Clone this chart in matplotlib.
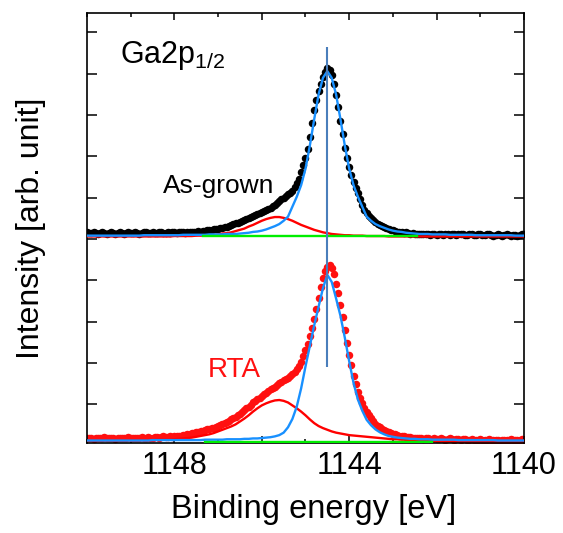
import numpy as np
import matplotlib
matplotlib.use('Agg')
import matplotlib.pyplot as plt
from matplotlib.ticker import MultipleLocator

plt.rcParams['font.family'] = ['Liberation Sans', 'DejaVu Sans']
plt.rcParams['mathtext.default'] = 'regular'

# energy grids (eV), from 1150 down to 1140
data_e = np.linspace(1150, 1140, 201)
fit_e = np.linspace(1150, 1140, 101)

# As-grown spectrum (offset by +5)
asgrown = [
    5.10, 5.08, 5.09, 5.11, 5.08, 5.07, 5.09, 5.10, 5.08, 5.06, 5.08, 5.10, 5.09, 5.07, 5.08, 5.10, 5.09, 5.07, 5.08, 5.10,
    5.09, 5.08, 5.10, 5.09, 5.07, 5.08, 5.10, 5.11, 5.09, 5.08, 5.10, 5.09, 5.08, 5.10, 5.11, 5.09, 5.08, 5.10, 5.09, 5.10,
    5.11, 5.09, 5.10, 5.11, 5.10, 5.09, 5.11, 5.12, 5.10, 5.11, 5.12, 5.13, 5.12, 5.14, 5.13, 5.15, 5.16, 5.15, 5.17, 5.18,
    5.19, 5.20, 5.21, 5.23, 5.24, 5.26, 5.28, 5.29, 5.32, 5.33, 5.36, 5.38, 5.40, 5.42, 5.44, 5.46, 5.49, 5.52, 5.54, 5.57,
    5.59, 5.62, 5.64, 5.67, 5.70, 5.73, 5.76, 5.80, 5.85, 5.90, 5.94, 5.99, 6.04, 6.06, 6.10, 6.20, 6.30, 6.40, 6.55, 6.72,
    6.90, 7.12, 7.42, 7.75, 8.05, 8.30, 8.52, 8.70, 8.86, 8.98, 9.07, 9.02, 8.90, 8.70, 8.42, 8.14, 7.80, 7.48, 7.15, 6.90,
    6.68, 6.48, 6.32, 6.18, 6.06, 5.90, 5.75, 5.64, 5.56, 5.49, 5.44, 5.39, 5.35, 5.31, 5.28, 5.26, 5.23, 5.20, 5.18, 5.16,
    5.15, 5.13, 5.12, 5.11, 5.10, 5.09, 5.10, 5.08, 5.07, 5.08, 5.07, 5.06, 5.07, 5.05, 5.06, 5.07, 5.05, 5.04, 5.06, 5.05,
    5.04, 5.06, 5.05, 5.04, 5.06, 5.05, 5.03, 5.05, 5.06, 5.04, 5.05, 5.07, 5.05, 5.03, 5.04, 5.06, 5.05, 5.03, 5.04, 5.06,
    5.05, 5.03, 5.04, 5.06, 5.05, 5.03, 5.02, 5.04, 5.05, 5.03, 5.02, 5.04, 5.05, 5.03, 5.02, 5.04, 5.03, 5.02, 5.04, 5.05,
    5.06]

# RTA spectrum
rta = [
    0.11, 0.13, 0.12, 0.10, 0.12, 0.13, 0.11, 0.12, 0.14, 0.12, 0.11, 0.13, 0.12, 0.10, 0.12, 0.13, 0.12, 0.11, 0.13, 0.14,
    0.12, 0.13, 0.12, 0.11, 0.13, 0.14, 0.12, 0.13, 0.15, 0.13, 0.12, 0.14, 0.15, 0.13, 0.14, 0.16, 0.14, 0.15, 0.16, 0.15,
    0.17, 0.16, 0.18, 0.17, 0.19, 0.20, 0.21, 0.22, 0.23, 0.24, 0.26, 0.27, 0.28, 0.30, 0.31, 0.33, 0.34, 0.36, 0.37, 0.39,
    0.41, 0.43, 0.46, 0.48, 0.51, 0.54, 0.57, 0.60, 0.64, 0.67, 0.71, 0.75, 0.79, 0.84, 0.88, 0.93, 0.98, 1.02, 1.06, 1.10,
    1.14, 1.18, 1.22, 1.26, 1.30, 1.33, 1.36, 1.40, 1.44, 1.48, 1.52, 1.55, 1.58, 1.62, 1.66, 1.72, 1.78, 1.86, 1.96, 2.10,
    2.24, 2.40, 2.58, 2.78, 3.00, 3.25, 3.50, 3.78, 4.00, 4.16, 4.26, 4.30, 4.24, 4.08, 3.86, 3.62, 3.34, 3.04, 2.74, 2.42,
    2.14, 1.88, 1.62, 1.42, 1.24, 1.08, 0.96, 0.85, 0.75, 0.67, 0.60, 0.53, 0.47, 0.42, 0.38, 0.34, 0.31, 0.29, 0.26, 0.24,
    0.22, 0.21, 0.19, 0.18, 0.17, 0.16, 0.15, 0.14, 0.15, 0.13, 0.12, 0.13, 0.11, 0.12, 0.10, 0.11, 0.12, 0.10, 0.09, 0.11,
    0.10, 0.09, 0.11, 0.10, 0.08, 0.10, 0.11, 0.09, 0.08, 0.10, 0.09, 0.07, 0.09, 0.10, 0.08, 0.07, 0.09, 0.08, 0.06, 0.08,
    0.09, 0.07, 0.06, 0.08, 0.09, 0.07, 0.06, 0.08, 0.07, 0.05, 0.07, 0.08, 0.06, 0.07, 0.09, 0.07, 0.06, 0.08, 0.07, 0.09,
    0.08]

# fitted components
asgrown_main = [
    5.02, 5.02, 5.02, 5.02, 5.02, 5.02, 5.02, 5.02, 5.02, 5.02,
    5.02, 5.02, 5.02, 5.03, 5.03, 5.03, 5.03, 5.03, 5.03, 5.03,
    5.03, 5.03, 5.04, 5.04, 5.04, 5.04, 5.04, 5.04, 5.05, 5.05,
    5.05, 5.05, 5.06, 5.06, 5.06, 5.07, 5.08, 5.09, 5.11, 5.12,
    5.14, 5.17, 5.21, 5.25, 5.30, 5.38, 5.48, 5.72, 5.96, 6.24,
    6.64, 7.20, 7.84, 8.44, 8.84, 9.00, 8.84, 8.44, 7.84, 7.20,
    6.64, 6.24, 5.96, 5.72, 5.48, 5.38, 5.30, 5.25, 5.21, 5.17,
    5.14, 5.12, 5.11, 5.09, 5.08, 5.07, 5.06, 5.06, 5.06, 5.05,
    5.05, 5.05, 5.05, 5.04, 5.04, 5.04, 5.04, 5.04, 5.04, 5.03,
    5.03, 5.03, 5.03, 5.03, 5.03, 5.03, 5.03, 5.03, 5.02, 5.02,
    5.02]
asgrown_sub = [
    5.00, 5.00, 5.00, 5.00, 5.00, 5.00, 5.00, 5.00, 5.00, 5.00,
    5.00, 5.00, 5.00, 5.00, 5.00, 5.00, 5.00, 5.00, 5.00, 5.00,
    5.01, 5.01, 5.01, 5.01, 5.01, 5.02, 5.02, 5.03, 5.03, 5.04,
    5.05, 5.07, 5.08, 5.10, 5.13, 5.16, 5.19, 5.24, 5.28, 5.33,
    5.38, 5.42, 5.45, 5.47, 5.47, 5.45, 5.42, 5.38, 5.33, 5.28,
    5.24, 5.20, 5.16, 5.13, 5.10, 5.08, 5.06, 5.05, 5.04, 5.03,
    5.03, 5.02, 5.02, 5.02, 5.01, 5.01, 5.01, 5.01, 5.01, 5.00,
    5.00, 5.00, 5.00, 5.00, 5.00, 5.00, 5.00, 5.00, 5.00, 5.00,
    5.00, 5.00, 5.00, 5.00, 5.00, 5.00, 5.00, 5.00, 5.00, 5.00,
    5.00, 5.00, 5.00, 5.00, 5.00, 5.00, 5.00, 5.00, 5.00, 5.00,
    5.00]
rta_main = [
    0.06, 0.06, 0.06, 0.06, 0.06, 0.06, 0.06, 0.06, 0.06, 0.06,
    0.06, 0.06, 0.06, 0.06, 0.06, 0.07, 0.07, 0.07, 0.07, 0.07,
    0.07, 0.07, 0.07, 0.07, 0.07, 0.07, 0.07, 0.08, 0.08, 0.08,
    0.08, 0.08, 0.09, 0.09, 0.09, 0.09, 0.10, 0.10, 0.11, 0.11,
    0.12, 0.13, 0.14, 0.16, 0.19, 0.25, 0.38, 0.58, 0.88, 1.32,
    1.85, 2.35, 2.85, 3.30, 3.75, 4.07, 3.90, 3.50, 3.08, 2.55,
    1.98, 1.45, 1.05, 0.78, 0.56, 0.43, 0.33, 0.26, 0.21, 0.17,
    0.15, 0.13, 0.12, 0.11, 0.10, 0.10, 0.09, 0.09, 0.09, 0.08,
    0.08, 0.08, 0.08, 0.08, 0.08, 0.07, 0.07, 0.07, 0.07, 0.07,
    0.07, 0.07, 0.07, 0.07, 0.06, 0.06, 0.06, 0.06, 0.06, 0.06,
    0.06]
rta_sub = [
    0.05, 0.05, 0.05, 0.05, 0.06, 0.06, 0.06, 0.06, 0.06, 0.06,
    0.07, 0.07, 0.07, 0.07, 0.07, 0.07, 0.08, 0.08, 0.08, 0.08,
    0.09, 0.10, 0.11, 0.12, 0.13, 0.15, 0.17, 0.19, 0.21, 0.24,
    0.28, 0.32, 0.36, 0.40, 0.45, 0.52, 0.59, 0.67, 0.76, 0.84,
    0.91, 0.96, 1.00, 1.03, 1.04, 1.02, 0.98, 0.91, 0.84, 0.76,
    0.67, 0.57, 0.48, 0.41, 0.36, 0.32, 0.28, 0.25, 0.23, 0.21,
    0.19, 0.18, 0.17, 0.16, 0.15, 0.14, 0.13, 0.12, 0.11, 0.10,
    0.09, 0.09, 0.08, 0.08, 0.07, 0.07, 0.06, 0.06, 0.05, 0.05,
    0.05, 0.05, 0.05, 0.05, 0.05, 0.05, 0.05, 0.05, 0.05, 0.05,
    0.05, 0.05, 0.05, 0.05, 0.05, 0.05, 0.05, 0.05, 0.05, 0.05,
    0.05]

# backgrounds
asgrown_bg_e = [1147.35, 1142.45]
asgrown_bg = [5.0, 5.0]
rta_bg_e = [1147.3, 1142.1]
rta_bg = [0.02, 0.02]

# peak marker
peak_e = 1144.5
peak_lo, peak_hi = 1.84, 9.59

fig = plt.figure(figsize=(5.63, 5.33), dpi=100)
ax = fig.add_axes([0.1545, 0.1689, 0.7762, 0.8067])

ax.plot(data_e, asgrown, 'o', color='black', ms=5.4, mew=0, zorder=2)
ax.plot(data_e, rta, 'o', color='#ff1010', ms=5.4, mew=0, zorder=2)

ax.plot(fit_e, asgrown_sub, color='#ff0000', lw=1.7, zorder=3)
ax.plot(fit_e, asgrown_main, color='#1890ff', lw=1.7, zorder=3)
ax.plot(asgrown_bg_e, asgrown_bg, color='#00ee00', lw=1.7, zorder=3)
ax.plot(fit_e, rta_sub, color='#ff0000', lw=1.7, zorder=3)
ax.plot(fit_e, rta_main, color='#1890ff', lw=1.7, zorder=3)
ax.plot(rta_bg_e, rta_bg, color='#00ee00', lw=1.7, zorder=3)

ax.vlines(peak_e, peak_lo, peak_hi, color='#4a7ebb', lw=1.5, zorder=4)

ax.set_xlim(1150, 1140)
ax.set_ylim(0, 10.41)

ax.set_xticks([1148, 1146, 1144, 1142, 1140])
ax.set_xticklabels(['1148', '', '1144', '', '1140'])
ax.xaxis.set_minor_locator(MultipleLocator(1))
ax.set_yticks(np.arange(1, 11) - 0.06)
ax.set_yticklabels([])
ax.tick_params(axis='x', which='major', direction='in', top=True, length=5,
               width=1.1, labelsize=22, pad=6)
ax.tick_params(axis='x', which='minor', direction='in', top=True, length=3, width=1.1)
ax.tick_params(axis='y', which='major', direction='in', right=True, length=7, width=1.1)
for s in ax.spines.values():
    s.set_linewidth(1.2)

ax.set_xlabel('Binding energy [eV]', fontsize=23.5, labelpad=9)
ax.xaxis.label.set_x(0.518)
ax.set_ylabel('Intensity [arb. unit]', fontsize=23, labelpad=26)

ax.text(0.0755, 0.884, 'Ga2p$_{1/2}$', transform=ax.transAxes, fontsize=22, va='baseline')
ax.text(0.174, 0.581, 'As-grown', transform=ax.transAxes, fontsize=19, va='baseline')
ax.text(0.277, 0.153, 'RTA', transform=ax.transAxes, fontsize=20, va='baseline', color='#ff1010')

fig.savefig('out.png', dpi=100)
